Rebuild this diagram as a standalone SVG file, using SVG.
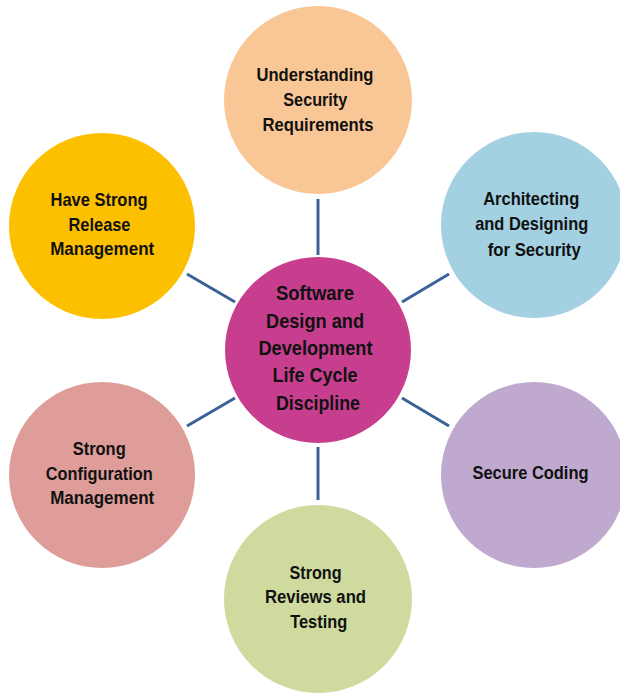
<svg xmlns="http://www.w3.org/2000/svg" width="620" height="694" viewBox="0 0 620 694">
<style>
.t{font-family:"Liberation Sans",Arial,sans-serif;font-weight:bold;font-size:18.5px;fill:#111;text-anchor:middle}
.c{font-size:20.5px}
.ln{stroke:#3B6298;stroke-width:3;fill:none}
</style>
<rect width="620" height="694" fill="#fff"/>
<g id="connectors">
<line class="ln" x1="318" y1="199" x2="318" y2="255"/>
<line class="ln" x1="318" y1="447" x2="318" y2="500"/>
<line class="ln" x1="187" y1="274" x2="235" y2="302"/>
<line class="ln" x1="402" y1="302" x2="449" y2="274"/>
<line class="ln" x1="187" y1="426" x2="235" y2="398"/>
<line class="ln" x1="402" y1="398" x2="449" y2="426"/>
</g>
<g id="center">
<circle cx="318" cy="350" r="93" fill="#C73E8E"/>
<text class="t c" x="315" y="300" textLength="78" lengthAdjust="spacingAndGlyphs">Software</text>
<text class="t c" x="315" y="328" textLength="98" lengthAdjust="spacingAndGlyphs">Design and</text>
<text class="t c" x="315.5" y="355" textLength="114" lengthAdjust="spacingAndGlyphs">Development</text>
<text class="t c" x="315" y="382" textLength="85" lengthAdjust="spacingAndGlyphs">Life Cycle</text>
<text class="t c" x="318" y="410" textLength="84" lengthAdjust="spacingAndGlyphs">Discipline</text>
</g>
<g id="requirements">
<circle cx="318" cy="100" r="94" fill="#F9C795"/>
<text class="t" x="315" y="81" textLength="117" lengthAdjust="spacingAndGlyphs">Understanding</text>
<text class="t" x="315.3" y="106" textLength="64" lengthAdjust="spacingAndGlyphs">Security</text>
<text class="t" x="318" y="131" textLength="111" lengthAdjust="spacingAndGlyphs">Requirements</text>
</g>
<g id="architecting">
<circle cx="534" cy="225" r="93" fill="#A3D1E1"/>
<text class="t" x="531.2" y="205" textLength="96" lengthAdjust="spacingAndGlyphs">Architecting</text>
<text class="t" x="531.7" y="230" textLength="113" lengthAdjust="spacingAndGlyphs">and Designing</text>
<text class="t" x="534.2" y="256" textLength="93" lengthAdjust="spacingAndGlyphs">for Security</text>
</g>
<g id="coding">
<circle cx="534" cy="475" r="93" fill="#BFA9CE"/>
<text class="t" x="530.5" y="479" textLength="116" lengthAdjust="spacingAndGlyphs">Secure Coding</text>
</g>
<g id="testing">
<circle cx="318" cy="599" r="94" fill="#CFDB9E"/>
<text class="t" x="315.5" y="579" textLength="52" lengthAdjust="spacingAndGlyphs">Strong</text>
<text class="t" x="315.5" y="603" textLength="101" lengthAdjust="spacingAndGlyphs">Reviews and</text>
<text class="t" x="318.7" y="628" textLength="57" lengthAdjust="spacingAndGlyphs">Testing</text>
</g>
<g id="configuration">
<circle cx="102" cy="475" r="93" fill="#DE9D98"/>
<text class="t" x="99.2" y="455" textLength="53" lengthAdjust="spacingAndGlyphs">Strong</text>
<text class="t" x="99.3" y="480" textLength="107" lengthAdjust="spacingAndGlyphs">Configuration</text>
<text class="t" x="102.2" y="504" textLength="104" lengthAdjust="spacingAndGlyphs">Management</text>
</g>
<g id="release">
<circle cx="102" cy="226" r="93" fill="#FDC000"/>
<text class="t" x="99" y="206" textLength="97" lengthAdjust="spacingAndGlyphs">Have Strong</text>
<text class="t" x="99.5" y="231" textLength="62" lengthAdjust="spacingAndGlyphs">Release</text>
<text class="t" x="102.2" y="255" textLength="104" lengthAdjust="spacingAndGlyphs">Management</text>
</g>
</svg>
